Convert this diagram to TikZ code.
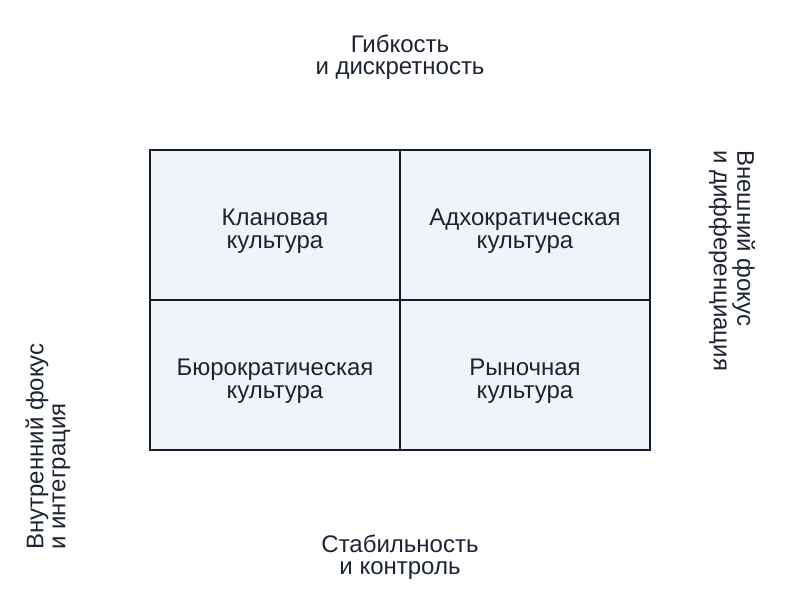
\documentclass[tikz,border=0pt]{standalone}
\usepackage{fontspec}
\setmainfont{Liberation Sans}
\definecolor{cellfill}{HTML}{F0F4F9}
\definecolor{gridline}{HTML}{141B2B}
\definecolor{txt}{HTML}{1C2333}
\begin{document}
\begin{tikzpicture}[x=1pt,y=-1pt,
  lbl/.style={text=txt,font=\fontsize{24}{22}\selectfont,align=center,inner sep=0pt},
  celllbl/.style={text=txt,font=\fontsize{24}{23.5}\selectfont,align=center,inner sep=0pt},
  sidelbl/.style={text=txt,font=\fontsize{24}{22}\selectfont,align=left,inner sep=0pt,anchor=west},
  cell/.style={draw=gridline,line width=2.6pt,fill=cellfill,minimum width=250pt,minimum height=150pt,inner sep=0pt}]
\useasboundingbox (0,0) rectangle (800,600);
\node[cell] (q1) at (275,225) {};
\node[cell] (q2) at (525,225) {};
\node[cell] (q3) at (275,375) {};
\node[cell] (q4) at (525,375) {};
\node[celllbl] (t1) at (275,231) {Клановая\\культура};
\node[celllbl] (t2) at (525,231) {Адхократическая\\культура};
\node[celllbl] (t3) at (275,381) {Бюрократическая\\культура};
\node[celllbl] (t4) at (525,381) {Рыночная\\культура};
\node[lbl] (top) at (400,57) {Гибкость\\и дискретность};
\node[lbl] (bot) at (400,557) {Стабильность\\и контроль};
\node[sidelbl,rotate=90] (left) at (48,550) {Внутренний фокус\\и интеграция};
\node[sidelbl,rotate=-90] (right) at (732,150) {Внешний фокус\\и дифференциация};
\end{tikzpicture}
\end{document}
